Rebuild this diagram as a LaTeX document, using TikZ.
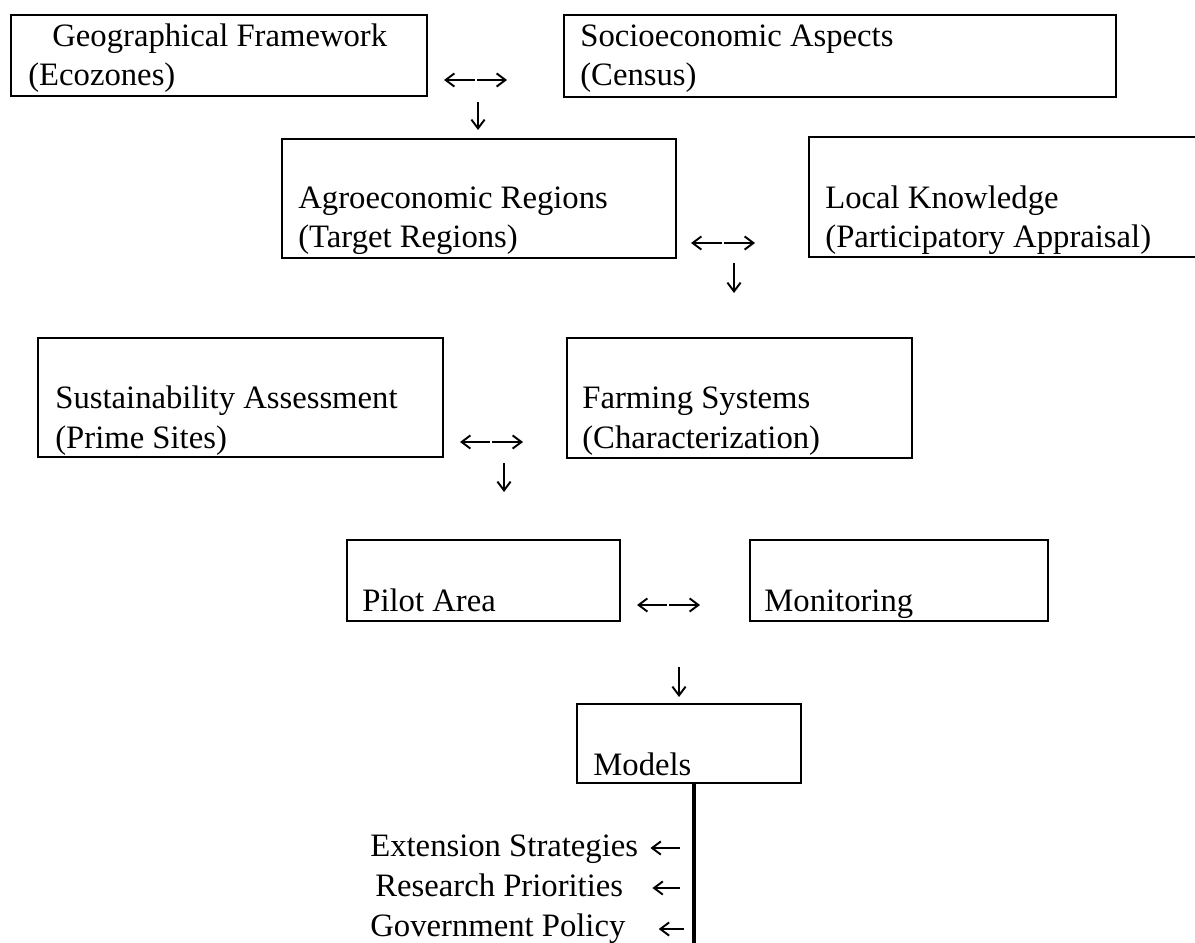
\documentclass[tikz,border=0pt]{standalone}
\usepackage{fontspec}
\setmainfont{Liberation Serif}
\usetikzlibrary{arrows.meta,fit}

\begin{document}
\begin{tikzpicture}[x=0.02cm, y=-0.02cm,
	caixa/.style={draw, line width=1.1pt, inner sep=0pt},
	texto/.style={anchor=base west, align=left, inner sep=0pt, font=\fontsize{18.6}{22.2}\selectfont},
	seta/.style={line width=1.1pt, -{Straight Barb[length=5pt, width=7.5pt]}}]
	\useasboundingbox (0,0) rectangle (1195,942); %Moldura
		%Caixas
	\node[caixa, fit={(11,15) (427,96)}] (geo) {}; %Geographical Framework
	\node[caixa, fit={(564,15) (1116,97)}] (socio) {}; %Socioeconomic
	\node[caixa, fit={(282,139) (676,258)}] (agro) {}; %Agroeconomic
	\node[caixa, fit={(809,137) (1215,257)}] (local) {}; %Local Knowledge
	\node[caixa, fit={(38,338) (443,457)}] (sust) {}; %Sustainability
	\node[caixa, fit={(567,338) (912,458)}] (farm) {}; %Farming Systems
	\node[caixa, fit={(347,540) (620,621)}] (pilot) {}; %Pilot Area
	\node[caixa, fit={(750,540) (1048,621)}] (monit) {}; %Monitoring
	\node[caixa, fit={(577,704) (801,783)}] (models) {}; %Models
		%Textos
	\node[texto] (geotxt) at (28,86) {\hspace*{0.48cm}Geographical Framework\\(Ecozones)};
	\node[texto] (sociotxt) at (580,86) {Socioeconomic Aspects\\(Census)};
	\node[texto] (agrotxt) at (298,248) {Agroeconomic Regions\\(Target Regions)};
	\node[texto] (localtxt) at (825,248) {Local Knowledge\\(Participatory Appraisal)};
	\node[texto] (susttxt) at (55,448) {Sustainability Assessment\\(Prime Sites)};
	\node[texto] (farmtxt) at (582,448) {Farming Systems\\(Characterization)};
	\node[texto] (pilottxt) at (362,611) {Pilot Area};
	\node[texto] (monittxt) at (764,611) {Monitoring};
	\node[texto] (modelstxt) at (593,775) {Models};
	\node[texto] (ext) at (370,856) {Extension Strategies};
	\node[texto] (res) at (375,896) {Research Priorities};
	\node[texto] (gov) at (370,936) {Government Policy};
		%Setas duplas e setas para baixo
	\coordinate (m1) at (476,80);
	\draw[seta] (m1) ++(-1,0) -- ++(-31,0);
	\draw[seta] (m1) ++(1,0) -- ++(30,0);
	\draw[seta] (m1) ++(2,22) -- ++(0,28);
	\coordinate (m2) at (723,243);
	\draw[seta] (m2) ++(-1,0) -- ++(-31,0);
	\draw[seta] (m2) ++(1,0) -- ++(31,0);
	\draw[seta] (m2) ++(11,20) -- ++(0,30);
	\coordinate (m3) at (491,442);
	\draw[seta] (m3) ++(-1,0) -- ++(-30,0);
	\draw[seta] (m3) ++(1,0) -- ++(31,0);
	\draw[seta] (m3) ++(13,21) -- ++(0,29);
	\coordinate (m4) at (668,605);
	\draw[seta] (m4) ++(-1,0) -- ++(-30,0);
	\draw[seta] (m4) ++(1,0) -- ++(31,0);
	\draw[seta] (m4) ++(11,62) -- ++(0,30);
		%Saidas do modelo
	\coordinate (fim) at (694,950);
	\draw[line width=2pt] (fim |- models.south) -- (fim); %Linha vertical
	\draw[seta] (ext.base east) ++(42,-8) -- ++(-30,0);
	\draw[seta] (res.base east) ++(57,-8) -- ++(-28,0);
	\draw[seta] (gov.base east) ++(58,-7) -- ++(-25,0);
\end{tikzpicture}
\end{document}
